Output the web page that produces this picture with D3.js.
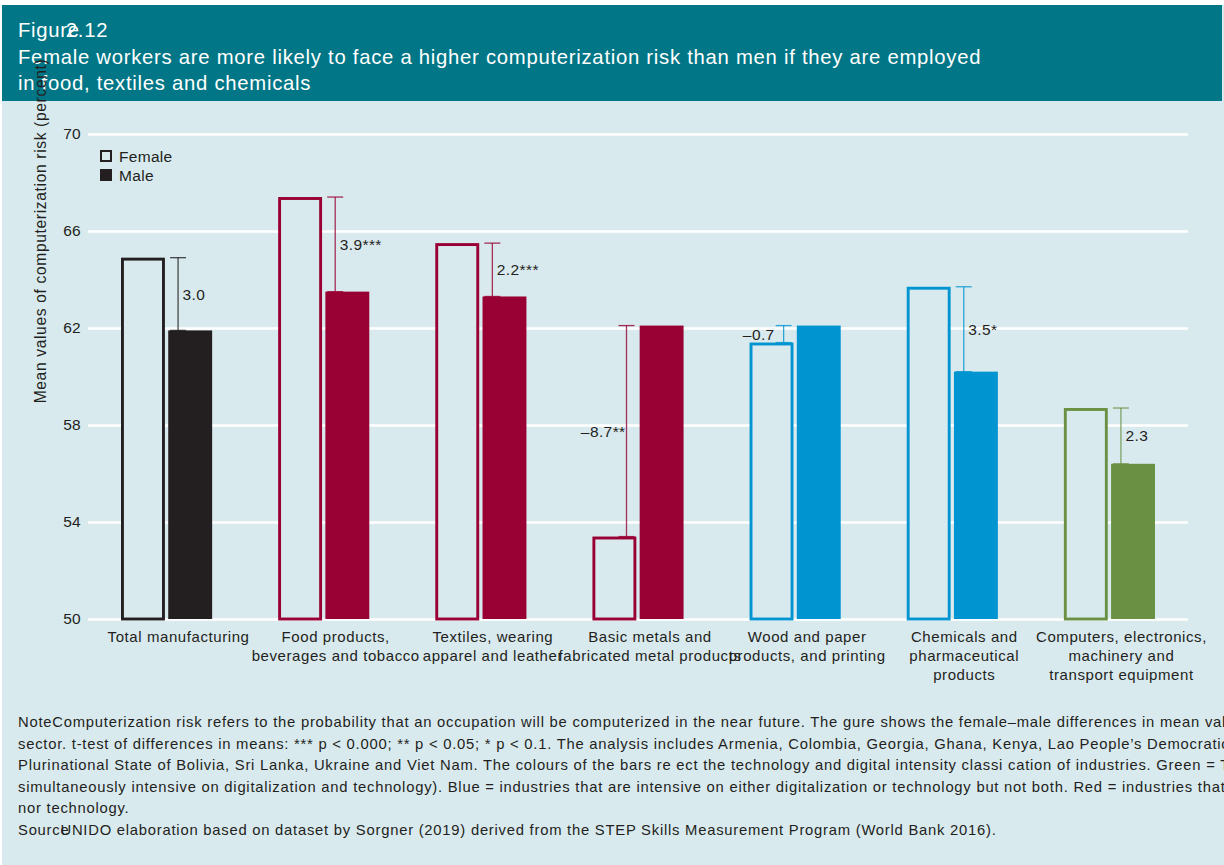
<!DOCTYPE html>
<html>
<head>
<meta charset="utf-8">
<script src="https://cdn.jsdelivr.net/npm/d3@7/dist/d3.min.js"></script>
<style>
  html, body { margin: 0; padding: 0; background: #ffffff; }
  svg { display: block; font-family: "Liberation Sans", Arial, Helvetica, sans-serif; }
</style>
</head>
<body>
<svg id="chart" width="1224" height="865"></svg>
<script>
// Industry groups (label lines under each pair of bars)
const categories = [
  ["Total manufacturing"],
  ["Food products,", "beverages and tobacco"],
  ["Textiles, wearing", "apparel and leather"],
  ["Basic metals and", "fabricated metal products"],
  ["Wood and paper", "products, and printing"],
  ["Chemicals and", "pharmaceutical", "products"],
  ["Computers, electronics,", "machinery and", "transport equipment"]
];
// Mean computerization risk (percent)
const femaleValues = [64.9, 67.4, 65.5, 53.4, 61.4, 63.7, 58.7];
const maleValues   = [61.9, 63.5, 63.3, 62.1, 62.1, 60.2, 56.4];
// Significance of the female–male difference
const significance = ["", "***", "***", "**", "", "*", ""];
// Technology / digital intensity group of each industry
const intensity = ["total", "low", "low", "low", "medium", "medium", "high"];
const yTicks = [50, 54, 58, 62, 66, 70];
const seriesNames = ["Female", "Male"];

const colours = { total: "#231f20", low: "#990033", medium: "#0094d1", high: "#6a9143" };
const bg = "#d9eaef";
const ink = "#231f20";

const svg = d3.select("#chart");

// width of a string in a given style, used to butt label parts together
function textWidth(str, size, spacing) {
  const t = svg.append("text").attr("font-size", size).attr("letter-spacing", spacing).text(str);
  const w = t.node().getComputedTextLength();
  t.remove();
  return w;
}

// Page background and header band
svg.append("rect").attr("x", 2).attr("y", 5).attr("width", 1222).attr("height", 860).attr("fill", bg);
svg.append("rect").attr("x", 2).attr("y", 5).attr("width", 1220).attr("height", 96).attr("fill", "#017686");

const tSize = 20.3, tSpace = 0.73;
const title = svg.append("g").attr("fill", "#ffffff").attr("font-size", tSize).attr("letter-spacing", tSpace);
title.append("text").attr("x", 18).attr("y", 37).text("Figure");
title.append("text").attr("x", 16 + textWidth("Figur", tSize, tSpace)).attr("y", 37).text("2.12");
title.append("text").attr("x", 18).attr("y", 64)
  .text("Female workers are more likely to face a higher computerization risk than men if they are employed");
title.append("text").attr("x", 18).attr("y", 90).text("in food, textiles and chemicals");

// Scales
const x = d3.scaleBand()
  .domain(d3.range(categories.length))
  .range([88, 1188])
  .paddingInner(0.42)
  .paddingOuter(0.21);
const xs = d3.scaleBand().domain(seriesNames).range([0, x.bandwidth()]).paddingInner(0.07);
const y = d3.scaleLinear().domain([50, 70]).range([619, 134]);

// Gridlines and tick labels
const yAxis = d3.axisLeft(y).tickValues(yTicks).tickSize(-1100).tickPadding(7);
const ax = svg.append("g").attr("transform", "translate(88,0)").call(yAxis);
ax.select(".domain").remove();
ax.selectAll(".tick line").attr("stroke", "#ffffff").attr("stroke-width", 2.5);
ax.selectAll(".tick text").attr("fill", ink).attr("font-size", 15.5).attr("letter-spacing", 0.3)
  .attr("font-family", "Liberation Sans, Arial, sans-serif");

// Y axis title
svg.append("text")
  .attr("transform", "translate(46,231) rotate(-90)")
  .attr("text-anchor", "middle")
  .attr("font-size", 15.6)
  .attr("letter-spacing", 0.65)
  .attr("fill", ink)
  .text("Mean values of computerization risk (percent)");

// Bars
const rows = categories.map((c, i) => ({
  i, lines: c, female: femaleValues[i], male: maleValues[i],
  sig: significance[i], colour: colours[intensity[i]]
}));

const groups = svg.append("g").selectAll("g").data(rows).join("g")
  .attr("transform", d => `translate(${x(d.i)},0)`);

const sw = 2.9;
groups.append("rect")
  .attr("x", xs("Female") + sw / 2)
  .attr("y", d => y(d.female) + sw / 2)
  .attr("width", xs.bandwidth() - sw)
  .attr("height", d => y(50) - y(d.female) - sw / 2)
  .attr("fill", bg)
  .attr("stroke", d => d.colour)
  .attr("stroke-width", sw);

groups.append("rect")
  .attr("x", xs("Male"))
  .attr("y", d => y(d.male))
  .attr("width", xs.bandwidth())
  .attr("height", d => y(50) - y(d.male))
  .attr("fill", d => d.colour);

// Difference markers between female and male means
const fmt = v => (v < 0 ? "\u2013" : "") + d3.format(".1f")(Math.abs(v));
const capHalf = 8;
groups.each(function (d) {
  const g = d3.select(this);
  const diff = d.female - d.male;
  const mid = x.bandwidth() / 2;
  const ex = diff >= 0 ? mid + 11.5 : mid - 11.5;
  const y1 = y(d.female), y2 = y(d.male);
  const line = (a, b, c, e) => g.append("line").attr("x1", a).attr("y1", b).attr("x2", c).attr("y2", e)
    .attr("stroke", d.colour).attr("stroke-width", 1.3).attr("opacity", 0.8);
  line(ex, y1, ex, y2);
  line(ex - capHalf, y1, ex + capHalf, y1);
  line(ex - capHalf, y2, ex + capHalf, y2);
  const short = Math.abs(y2 - y1) < 30;
  g.append("text")
    .attr("x", diff >= 0 ? ex + 4.5 : ex - (short ? capHalf + 1 : 1))
    .attr("y", (y1 + y2) / 2 + 5.5)
    .attr("text-anchor", diff >= 0 ? "start" : "end")
    .attr("font-size", 15.5)
    .attr("letter-spacing", 0.4)
    .attr("fill", ink)
    .text(fmt(diff) + d.sig);
});

// Category labels
groups.append("text")
  .attr("text-anchor", "middle")
  .attr("font-size", 15)
  .attr("letter-spacing", 0.58)
  .attr("fill", ink)
  .selectAll("tspan").data(d => d.lines).join("tspan")
  .attr("x", x.bandwidth() / 2 + 12)
  .attr("y", (l, k) => 642 + k * 19)
  .text(l => l);

// Legend
const legend = svg.append("g").attr("transform", "translate(100,150)");
legend.append("rect").attr("x", 1).attr("y", 1).attr("width", 10).attr("height", 10)
  .attr("fill", bg).attr("stroke", ink).attr("stroke-width", 2);
legend.append("rect").attr("x", 0).attr("y", 19).attr("width", 12).attr("height", 12).attr("fill", ink);
legend.append("g").attr("font-size", 15.5).attr("letter-spacing", 0.3).attr("fill", ink)
  .selectAll("text").data(seriesNames).join("text")
  .attr("x", 19).attr("y", (s, k) => 11.5 + k * 19).text(s => s);

// Notes and source
const nSize = 14.8, nSpace = 0.76;
const noteLines = [
  ["Note", "Computerization risk refers to the probability that an occupation will be computerized in the near future. The  gure shows the female\u2013male differences in mean values"],
  ["", "sector. t-test of differences in means: *** p < 0.000; ** p < 0.05; * p < 0.1. The analysis includes Armenia, Colombia, Georgia, Ghana, Kenya, Lao People\u2019s Democratic"],
  ["", "Plurinational State of Bolivia, Sri Lanka, Ukraine and Viet Nam. The colours of the bars re ect the technology and digital intensity classi cation of industries. Green = The"],
  ["", "simultaneously intensive on digitalization and technology). Blue = industries that are intensive on either digitalization or technology but not both. Red = industries that are"],
  ["", "nor technology."],
  ["Source", "UNIDO elaboration based on dataset by Sorgner (2019) derived from the STEP Skills Measurement Program (World Bank 2016)."]
];
const notes = svg.append("g").attr("font-size", nSize).attr("letter-spacing", nSpace).attr("fill", ink);
noteLines.forEach((l, k) => {
  const yy = 727 + k * 21.6;
  if (l[0]) {
    notes.append("text").attr("x", 18).attr("y", yy).text(l[0]);
    // the source line starts on the last letter of its heading
    const lead = l[0] === "Source" ? "Sourc" : l[0];
    notes.append("text").attr("x", 18 + textWidth(lead, nSize, nSpace)).attr("y", yy).text(l[1]);
  } else {
    notes.append("text").attr("x", 18).attr("y", yy).text(l[1]);
  }
});
</script>
</body>
</html>
